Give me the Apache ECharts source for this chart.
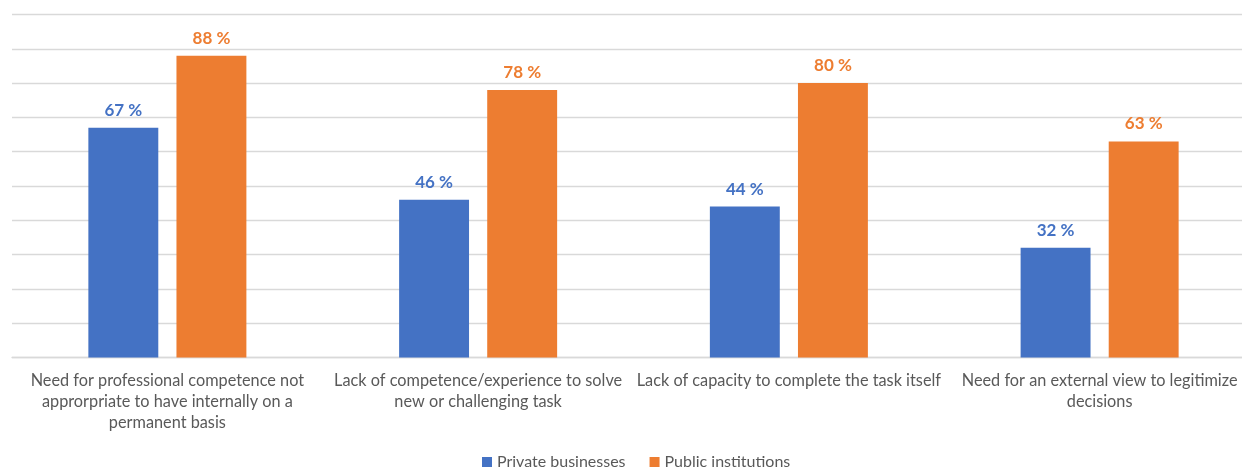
<!DOCTYPE html>
<html><head><meta charset="utf-8">
<script src="https://cdn.jsdelivr.net/npm/echarts@6/dist/echarts.min.js"></script>
<style>html,body{margin:0;padding:0;background:#fff}#c{width:1242px;height:468px}</style>
</head><body><div id="c"></div>
<script>
const categories = [
  "Need for professional competence not\napprorpriate to have internally on a\npermanent basis",
  "Lack of competence/experience to solve\nnew or challenging task",
  "Lack of capacity to complete the task itself",
  "Need for an external view to legitimize\ndecisions"
];
const privateBusinesses = [67, 46, 44, 32];
const publicInstitutions = [88, 78, 80, 63];
const seriesNames = ["Private businesses", "Public institutions"];

const chart = echarts.init(document.getElementById('c'), null, {renderer: 'canvas'});
const font = 'Lato, "Open Sans", sans-serif';
chart.setOption({
  animation: false,
  textStyle: {fontFamily: font},
  grid: {left: 12, width: 1243, top: 14.5, bottom: 110.5, containLabel: false, outerBoundsMode: 'none'},
  legend: {
    bottom: -7, left: 477, itemWidth: 10, itemHeight: 10, itemGap: 24,
    icon: 'rect',
    textStyle: {color: '#595959', fontSize: 16, fontFamily: font},
    data: seriesNames
  },
  xAxis: {
    type: 'category', data: categories,
    axisLine: {lineStyle: {color: '#d9d9d9', width: 1.3}},
    axisTick: {show: false},
    axisLabel: {color: '#595959', fontSize: 16.3, lineHeight: 21, margin: 13, interval: 0, fontFamily: font}
  },
  yAxis: {
    type: 'value', min: 0, max: 100, interval: 10,
    axisLabel: {show: false}, axisLine: {show: false}, axisTick: {show: false},
    splitLine: {lineStyle: {color: '#d9d9d9', width: 1.3}}
  },
  series: [
    {name: seriesNames[0], type: 'bar', data: privateBusinesses, barWidth: '22.5%', barGap: '26%',
     itemStyle: {color: '#4472C4'},
     label: {show: true, position: 'top', distance: 9, formatter: '{c} %', color: '#4472C4', fontWeight: 'bold', fontSize: 17, fontFamily: font}},
    {name: seriesNames[1], type: 'bar', data: publicInstitutions, barWidth: '22.5%', barGap: '26%',
     itemStyle: {color: '#ED7D31'},
     label: {show: true, position: 'top', distance: 9, formatter: '{c} %', color: '#ED7D31', fontWeight: 'bold', fontSize: 17, fontFamily: font}}
  ]
});
</script></body></html>
